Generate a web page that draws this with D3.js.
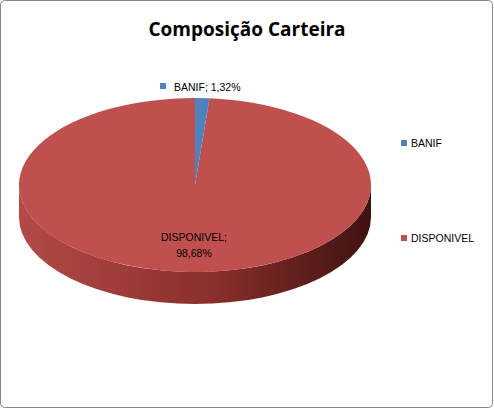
<!DOCTYPE html><html><head><meta charset="utf-8"><script src="https://cdn.jsdelivr.net/npm/d3@7"></script>
<style>body{margin:0;background:#fff}</style></head><body><svg id="c" width="494" height="409"></svg><script>
const categories=["BANIF","DISPONIVEL"];
const values=[1.32,98.68];
const labels=["BANIF; 1,32%","DISPONIVEL;\n98,68%"];
const colors=["#4f81bd","#c0504d"];
(function(){
const svg=d3.select("#c");
svg.append("rect").attr("x",0.5).attr("y",0.5).attr("width",492).attr("height",407).attr("rx",4).attr("fill","#fff").attr("stroke","#888");
const defs=svg.append("defs");
const g=defs.append("linearGradient").attr("id","side");
g.append("stop").attr("offset","0%").attr("stop-color","#b34a47");
g.append("stop").attr("offset","55%").attr("stop-color","#8a2f2c");
g.append("stop").attr("offset","100%").attr("stop-color","#3f1211");
svg.append("text").attr("x",247).attr("y",36).attr("text-anchor","middle").attr("font-family","Open Sans, sans-serif").attr("font-weight","bold").attr("font-size",19).text("Composição Carteira");
const cx=195,cy=185,rx=176,ry=87,depth=32;
const side=`M${cx-rx},${cy} A${rx},${ry} 0 0 0 ${cx+rx},${cy} L${cx+rx},${cy+depth} A${rx},${ry} 0 0 1 ${cx-rx},${cy+depth} Z`;
svg.append("path").attr("d",side).attr("fill","url(#side)");
const pie=d3.pie().sort(null)(values);
const arc=d3.arc().innerRadius(0).outerRadius(rx);
const topG=svg.append("g").attr("transform",`translate(${cx},${cy}) scale(1,${ry/rx})`);
topG.selectAll("path").data(pie).join("path").attr("d",arc).attr("fill",(d,i)=>colors[i]);
svg.append("rect").attr("x",160).attr("y",83).attr("width",6).attr("height",6).attr("fill",colors[0]);
svg.append("text").attr("x",174).attr("y",91).attr("font-family","Liberation Sans, Arial").attr("font-size",10.5).text(labels[0]);
labels[1].split("\n").forEach((t,i)=>svg.append("text").attr("x",194).attr("y",241+i*16).attr("text-anchor","middle").attr("font-family","Liberation Sans, Arial").attr("font-size",10.5).text(t));
categories.forEach((c,i)=>{const y=[144,239][i];
svg.append("rect").attr("x",401).attr("y",y-4).attr("width",6).attr("height",6).attr("fill",colors[i]);
svg.append("text").attr("x",411).attr("y",y+3).attr("font-family","Liberation Sans, Arial").attr("font-size",10.5).text(c);});
})();
</script></body></html>
